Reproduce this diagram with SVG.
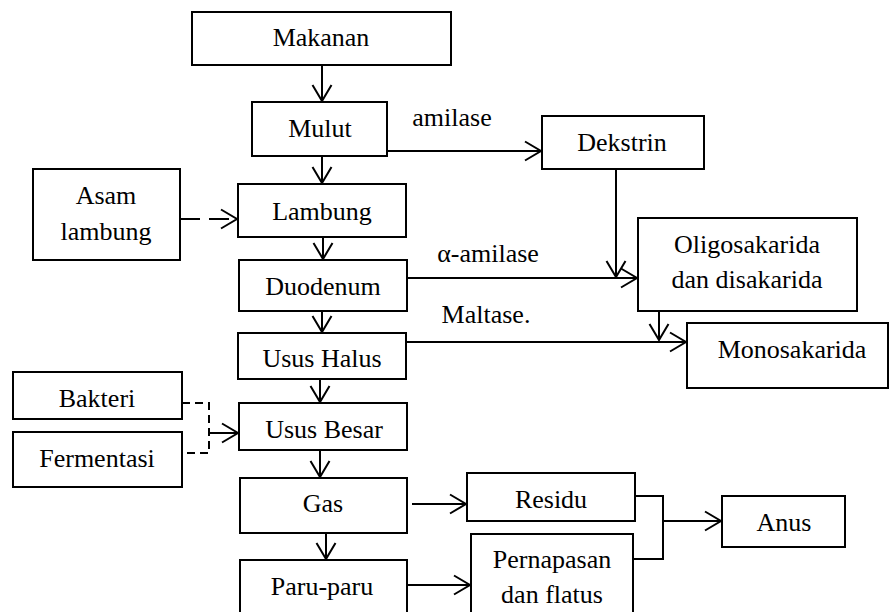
<svg xmlns="http://www.w3.org/2000/svg" width="891" height="612" viewBox="0 0 891 612">
<defs>
<marker id="a" markerUnits="userSpaceOnUse" markerWidth="22" markerHeight="24" refX="18" refY="11" orient="auto" viewBox="0 0 22 24">
<path d="M2,1.5 L18,11 L2,20.5" fill="none" stroke="#000" stroke-width="2"/>
</marker>
</defs>
<rect width="891" height="612" fill="#fff"/>
<g fill="#fff" stroke="#000" stroke-width="2">
<g id="makanan"><rect x="192" y="12" width="259" height="53"/></g>
<g id="mulut"><rect x="252" y="102" width="135" height="54"/></g>
<g id="dekstrin"><rect x="542" y="116" width="162" height="53"/></g>
<g id="asam"><rect x="33" y="169" width="147" height="91"/></g>
<g id="lambung"><rect x="238" y="184" width="168" height="53"/></g>
<g id="oligo"><rect x="638" y="218" width="219" height="93"/></g>
<g id="duodenum"><rect x="239" y="260" width="168" height="51"/></g>
<g id="mono"><rect x="687" y="323" width="201" height="65"/></g>
<g id="halus"><rect x="238" y="333" width="168" height="46"/></g>
<g id="bakteri"><rect x="13" y="372" width="169" height="47"/></g>
<g id="besar"><rect x="239" y="403" width="168" height="47"/></g>
<g id="fermentasi"><rect x="13" y="432" width="169" height="55"/></g>
<g id="gas"><rect x="240" y="478" width="167" height="55"/></g>
<g id="residu"><rect x="467" y="473" width="168" height="48"/></g>
<g id="anus"><rect x="722" y="496" width="123" height="51"/></g>
<g id="pernapasan"><rect x="471" y="534" width="162" height="80"/></g>
<g id="paru"><rect x="240" y="560" width="167" height="53"/></g>
</g>
<g id="texts" fill="#000" text-anchor="middle">
<text x="321" y="46" font-family="Liberation Serif" font-size="26">Makanan</text>
<text x="320" y="137" font-family="Liberation Serif" font-size="26">Mulut</text>
<text x="622" y="151" font-family="Liberation Serif" font-size="26">Dekstrin</text>
<text x="106" y="204" font-family="Liberation Serif" font-size="26">Asam</text>
<text x="106" y="240" font-family="Liberation Serif" font-size="26">lambung</text>
<text x="322" y="220" font-family="Liberation Serif" font-size="26">Lambung</text>
<text x="747" y="253" font-family="Liberation Serif" font-size="26">Oligosakarida</text>
<text x="747" y="288" font-family="Liberation Serif" font-size="26">dan disakarida</text>
<text x="323" y="295" font-family="Liberation Serif" font-size="26">Duodenum</text>
<text x="792" y="358" font-family="Liberation Serif" font-size="26">Monosakarida</text>
<text x="322" y="367" font-family="Liberation Serif" font-size="26">Usus Halus</text>
<text x="97" y="407" font-family="Liberation Serif" font-size="26">Bakteri</text>
<text x="324" y="438" font-family="Liberation Serif" font-size="26">Usus Besar</text>
<text x="97" y="467" font-family="Liberation Serif" font-size="26">Fermentasi</text>
<text x="323" y="512" font-family="Liberation Serif" font-size="26">Gas</text>
<text x="551" y="508" font-family="Liberation Serif" font-size="26">Residu</text>
<text x="784" y="531" font-family="Liberation Serif" font-size="26">Anus</text>
<text x="552" y="568" font-family="Liberation Serif" font-size="26">Pernapasan</text>
<text x="552" y="603" font-family="Liberation Serif" font-size="26">dan flatus</text>
<text x="322" y="595" font-family="Liberation Serif" font-size="26">Paru-paru</text>
<text x="452" y="126" font-family="Liberation Serif" font-size="26">amilase</text>
<text x="488" y="262" font-family="Liberation Serif" font-size="26">α-amilase</text>
<text x="486" y="323" font-family="Liberation Serif" font-size="26">Maltase.</text>
</g>
<g id="connectors" fill="none" stroke="#000" stroke-width="2">
<line x1="322" y1="65" x2="322" y2="101" marker-end="url(#a)"/>
<line x1="322" y1="156" x2="322" y2="183" marker-end="url(#a)"/>
<line x1="387" y1="151" x2="541" y2="151" marker-end="url(#a)"/>
<line stroke-dasharray="20 9" x1="180" y1="219" x2="237" y2="219" marker-end="url(#a)"/>
<line x1="323" y1="237" x2="323" y2="259" marker-end="url(#a)"/>
<line x1="616" y1="169" x2="616" y2="277" marker-end="url(#a)"/>
<line x1="407" y1="278" x2="637" y2="278" marker-end="url(#a)"/>
<line x1="322" y1="311" x2="322" y2="332" marker-end="url(#a)"/>
<line x1="659" y1="311" x2="659" y2="340" marker-end="url(#a)"/>
<line x1="406" y1="342" x2="686" y2="342" marker-end="url(#a)"/>
<line x1="320" y1="379" x2="320" y2="402" marker-end="url(#a)"/>
<polyline stroke-dasharray="8 5" points="182,403 209,403 209,453 182,453"/>
<line x1="209" y1="433" x2="238" y2="433" marker-end="url(#a)"/>
<line x1="320" y1="450" x2="320" y2="477" marker-end="url(#a)"/>
<line x1="326" y1="533" x2="326" y2="559" marker-end="url(#a)"/>
<line x1="412" y1="504" x2="466" y2="504" marker-end="url(#a)"/>
<line x1="407" y1="585" x2="470" y2="585" marker-end="url(#a)"/>
<polyline points="635,496 663,496 663,559 633,559"/>
<line x1="663" y1="521" x2="721" y2="521" marker-end="url(#a)"/>
</g>
</svg>
